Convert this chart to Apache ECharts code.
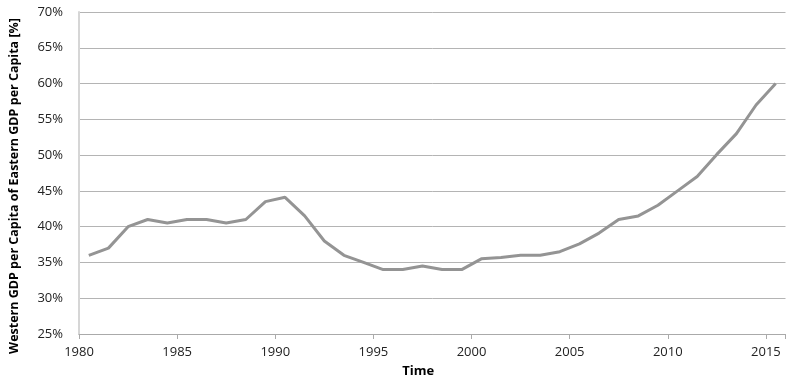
<!DOCTYPE html>
<html><head><meta charset="utf-8">
<script src="https://cdn.jsdelivr.net/npm/echarts@6/dist/echarts.min.js"></script>
<style>html,body{margin:0;padding:0;background:#fff}#c{width:800px;height:384px}</style>
</head><body><div id="c"></div>
<script>
const years = [1980,1981,1982,1983,1984,1985,1986,1987,1988,1989,1990,1991,1992,1993,1994,1995,1996,1997,1998,1999,2000,2001,2002,2003,2004,2005,2006,2007,2008,2009,2010,2011,2012,2013,2014,2015];
const ratio = [36.0,37.0,40.0,41.0,40.5,41.0,41.0,40.5,41.0,43.5,44.1,41.5,38.0,36.0,35.0,34.0,34.0,34.5,34.0,34.0,35.5,35.7,36.0,36.0,36.5,37.6,39.1,41.0,41.5,43.0,45.0,47.0,50.1,53.0,57.0,60.0];
const yTicks = [25,30,35,40,45,50,55,60,65,70];
const xTicks = [1980,1985,1990,1995,2000,2005,2010,2015];

const font = "'Open Sans', 'Liberation Sans', sans-serif";
const chart = echarts.init(document.getElementById('c'), null, {renderer:'canvas'});
chart.setOption({
  animation:false,
  grid:{left:76, right:14.5, top:12, bottom:50, containLabel:false},
  xAxis:{
    type:'value', min:1980, max:2016, interval:5,
    name:'Time', nameLocation:'middle', nameGap:31,
    nameTextStyle:{fontFamily:font, fontWeight:'bold', fontSize:13, color:'#000', padding:[0,28,0,0]},
    axisLine:{show:true, lineStyle:{color:'#aaaaaa', width:1}},
    axisTick:{show:true, length:5, lineStyle:{color:'#aaaaaa'}},
    axisLabel:{fontFamily:font, fontSize:13, color:'#222', margin:12,
      formatter:v=> xTicks.includes(v) ? String(v) : ''},
    splitLine:{show:false}
  },
  yAxis:{
    type:'value', min:25, max:70, interval:5,
    name:'Western GDP per Capita of Eastern GDP per Capita [%]', nameLocation:'middle', nameGap:58,
    nameTextStyle:{fontFamily:font, fontWeight:'bold', fontSize:12.5, color:'#000', padding:[0,0,0,-26]},
    axisLine:{show:true, lineStyle:{color:'#d6d6d6', width:2}},
    axisTick:{show:false},
    axisLabel:{fontFamily:font, fontSize:13, color:'#222', margin:16,
      formatter:v=> yTicks.includes(v) ? v+'%' : ''},
    splitLine:{show:true, lineStyle:{color:'#b4b4b4', width:1}}
  },
  series:[{
    type:'line', data: years.map((y,i)=>[y+0.5, ratio[i]]),
    showSymbol:false, symbol:'none',
    lineStyle:{color:'#949494', width:3}
  }]
});
</script></body></html>
